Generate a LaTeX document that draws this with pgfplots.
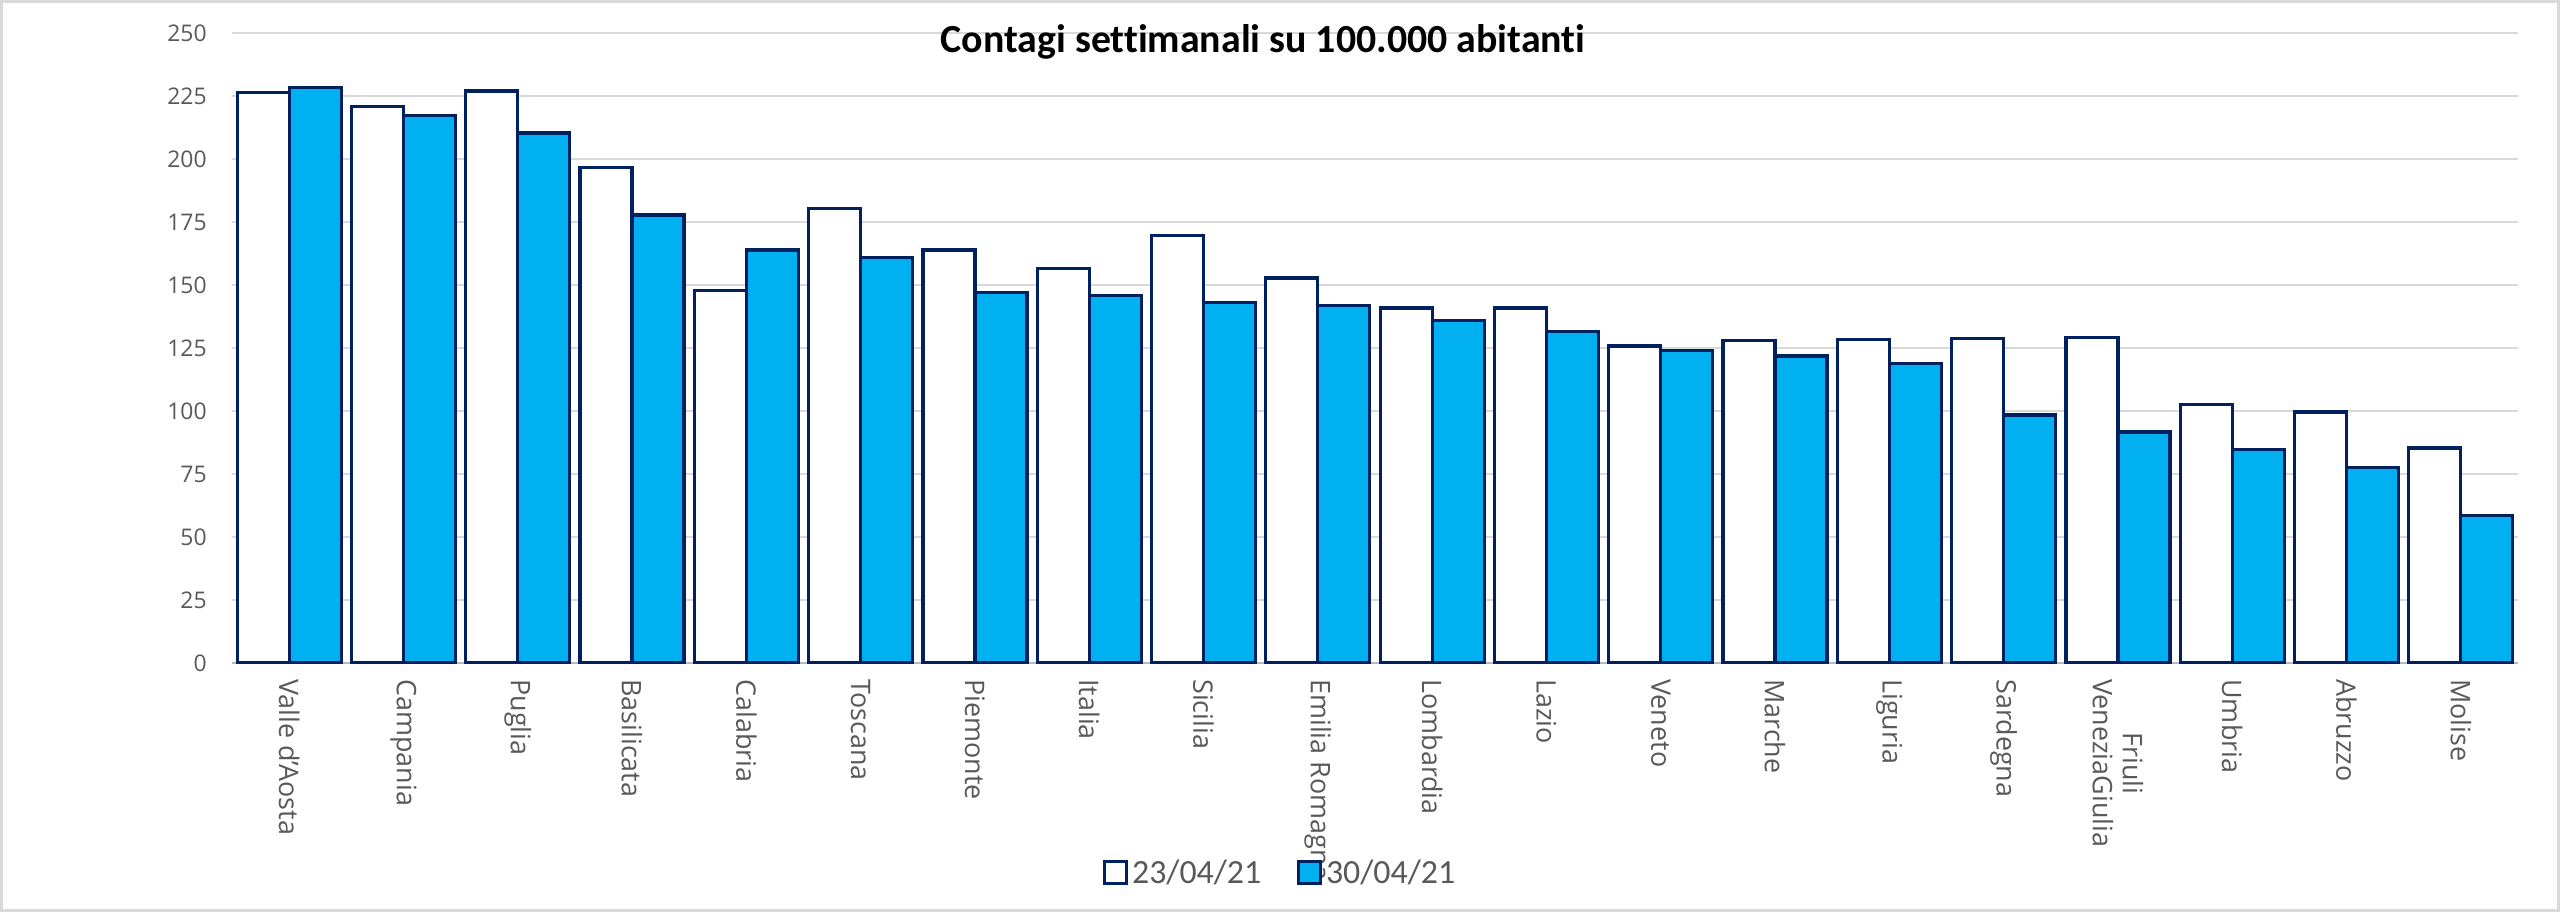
\documentclass[border=0pt]{standalone}
\usepackage{fontspec}
\setmainfont{Open Sans}
\newfontfamily\carlito[Ligatures=NoCommon]{Carlito}
\usepackage{pgfplots}
\usepackage{pgfplotstable}
\pgfplotsset{compat=1.18}

\definecolor{navy}{HTML}{002060}
\definecolor{sky}{HTML}{00B0F0}
\definecolor{gridgray}{HTML}{D9D9D9}
\definecolor{txtgray}{HTML}{595959}

% contagi settimanali su 100.000 abitanti: 23/04/21 (a), 30/04/21 (b)
\pgfplotstableread{
idx a b
0  226.5 228.4
1  220.8 217.2
2  227.0 210.3
3  196.7 177.8
4  147.9 163.9
5  180.3 160.8
6  163.9 146.9
7  156.7 145.9
8  169.7 143.0
9  152.8 141.9
10 140.9 135.8
11 140.9 131.7
12 125.8 124.0
13 127.9 121.8
14 128.4 118.8
15 128.8 98.4
16 129.1 91.7
17 102.5 84.8
18 99.6  77.5
19 85.3  58.6
}\datatable

\begin{document}
\begin{tikzpicture}
\draw[draw=gridgray, line width=1.5bp, fill=white]
  (-115.25bp,-123.75bp) rectangle (1163.25bp,330.75bp);
\useasboundingbox (-116bp,-124.5bp) rectangle (1164bp,331.5bp);
\begin{axis}[
    scale only axis,
    width=1143bp, height=315bp,
    ybar=0pt, bar width=26bp,
    xmin=-0.5, xmax=19.5,
    ymin=0, ymax=250,
    ytick={0,25,...,250},
    xtick={0,...,19},
    xticklabels={Valle d'Aosta, Campania, Puglia, Basilicata, Calabria,
      Toscana, Piemonte, Italia, Sicilia, Emilia Romagna, Lombardia, Lazio,
      Veneto, Marche, Liguria, Sardegna, {Friuli\\VeneziaGiulia}, Umbria,
      Abruzzo, Molise},
    axis x line*=bottom, axis y line*=left,
    x axis line style={draw=gray!55, line width=1bp, -},
    y axis line style={draw=none},
    major tick length=0pt,
    ymajorgrids,
    grid style={draw=gridgray, line width=1bp},
    tick label style={text=txtgray},
    yticklabel style={font=\fontsize{11.5}{13}\selectfont, inner sep=0pt},
    yticklabel shift=12.5bp,
    xticklabel style={font=\fontsize{13.5}{15}\selectfont, rotate=-90,
      anchor=west, align=center, inner sep=0pt},
    xticklabel shift=8bp,
    /pgf/number format/assume math mode=true,
    title={Contagi settimanali su 100.000 abitanti},
    title style={at={(0.451,0.967)}, anchor=center,
      font=\carlito\bfseries\fontsize{20}{24}\selectfont},
    legend style={at={(0.459,-0.333)}, anchor=center, draw=none,
      fill=none, font=\carlito\fontsize{17}{20}\selectfont,
      text=txtgray, legend columns=2,
      /tikz/every even column/.append style={column sep=16bp}},
    legend image code/.code={
      \draw[#1, line width=1.4bp] (0bp,-5.5bp) rectangle (11bp,5.5bp);},
]
\addplot[fill=white, draw=navy, line width=1.6bp]
  table[x=idx, y=a]{\datatable};
\addplot[fill=sky, draw=navy, line width=1.6bp]
  table[x=idx, y=b]{\datatable};
\legend{23/04/21, 30/04/21}
\end{axis}
\end{tikzpicture}
\end{document}
